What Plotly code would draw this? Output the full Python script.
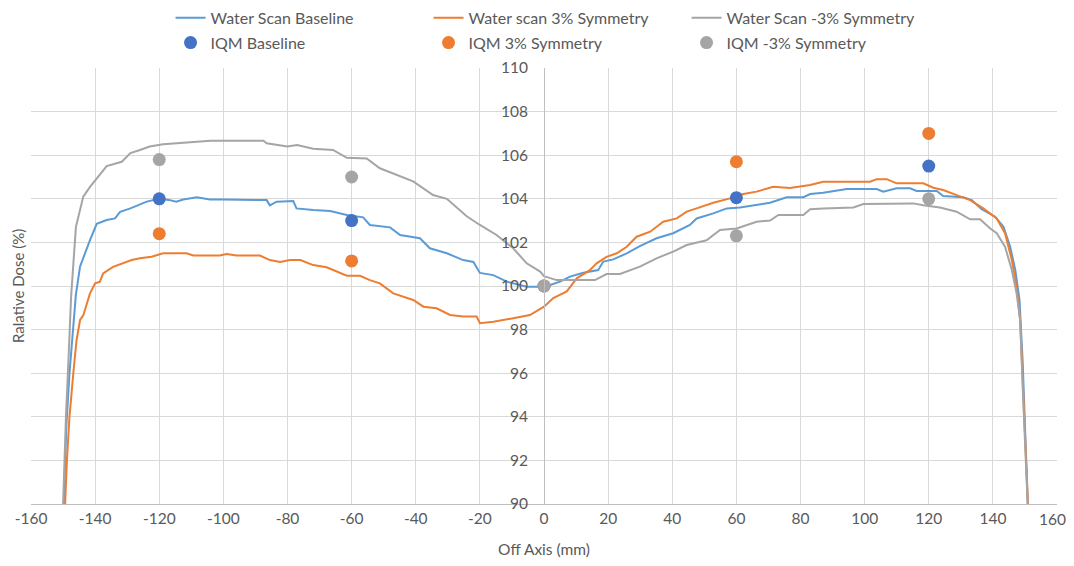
import plotly.graph_objects as go

# ---------------- data ----------------
base_x = [-149.9, -149.7, -149.0, -148.0, -146.8, -146.0, -144.7, -143.2, -141.6, -139.5, -136.4, -133.8,
          -132.2, -129.0, -126.5, -123.9, -120.0, -117.0, -114.7, -112.5, -108.3, -104.2, -100.0, -95.0,
          -90.0, -86.5, -85.5, -83.4, -78.2, -77.2, -72.0, -66.7, -61.5, -56.4, -54.3, -48.0, -44.9,
          -38.7, -35.6, -30.3, -25.2, -22.0, -20.0, -15.8, -11.6, -5.4, -2.0, 1.9, 5.0, 8.1, 12.3, 16.9,
          18.5, 21.6, 25.8, 29.9, 35.1, 40.3, 45.5, 47.6, 52.8, 57.0, 61.1, 65.3, 70.5, 75.7, 80.9, 83.0,
          87.1, 94.4, 103.8, 105.8, 110.0, 114.2, 116.2, 122.5, 124.5, 130.8, 133.4, 136.5, 140.7, 143.3,
          145.4, 147.0, 148.3, 149.3, 150.1, 150.7, 151.0]
base_y = [89.5, 90.5, 93.5, 96.0, 98.4, 99.6, 100.9, 101.5, 102.1, 102.85, 103.03, 103.1,
          103.4, 103.56, 103.7, 103.87, 104.0, 103.95, 103.87, 103.97, 104.07, 103.97, 103.97, 103.97,
          103.97, 103.94, 103.7, 103.87, 103.9, 103.56, 103.49, 103.44, 103.26, 103.15, 102.8, 102.69, 102.34,
          102.19, 101.73, 101.5, 101.19, 101.1, 100.6, 100.5, 100.2, 99.97, 99.97, 100.05, 100.2, 100.43, 100.61, 100.73,
          101.12, 101.22, 101.5, 101.83, 102.19, 102.42, 102.8, 103.1, 103.33, 103.56, 103.6, 103.7, 103.82, 104.07, 104.07, 104.22,
          104.28, 104.45, 104.45, 104.33, 104.48, 104.48, 104.36, 104.36, 104.13, 104.07, 103.94, 103.52, 103.18, 102.72,
          101.8, 100.73, 99.36, 96.5, 93.0, 90.5, 89.5]

pos_x = [-149.4, -149.3, -148.8, -148.0, -146.8, -145.8, -144.7, -143.7, -141.6, -140.0, -138.5, -137.5,
         -134.4, -131.2, -128.6, -126.0, -122.4, -118.8, -111.5, -109.4, -101.1, -99.0, -95.9, -88.6,
         -85.5, -82.3, -79.2, -76.0, -72.0, -67.8, -64.7, -61.5, -57.4, -54.3, -51.2, -47.0, -40.8,
         -37.6, -33.5, -29.3, -25.2, -21.0, -20.0, -15.8, -9.6, -4.4, 0.0, 2.9, 7.1, 10.2, 14.3, 16.4,
         19.5, 22.7, 25.8, 28.9, 33.1, 37.2, 41.4, 44.5, 47.6, 52.8, 58.0, 62.2, 66.3, 71.5, 76.7, 83.0,
         87.1, 101.7, 103.8, 106.9, 110.0, 118.3, 121.4, 124.5, 128.7, 132.9, 137.0, 141.2, 143.8, 145.9,
         147.4, 148.5, 149.5, 150.3, 150.9, 151.1]
pos_y = [89.5, 90.2, 92.0, 94.0, 96.0, 97.5, 98.44, 98.65, 99.66, 100.12, 100.2, 100.58,
         100.88, 101.04, 101.19, 101.27, 101.34, 101.5, 101.5, 101.4, 101.4, 101.47, 101.4, 101.4,
         101.19, 101.1, 101.19, 101.19, 100.96, 100.86, 100.66, 100.47, 100.47, 100.27, 100.12, 99.66, 99.36,
         99.05, 98.98, 98.67, 98.6, 98.6, 98.29, 98.36, 98.52, 98.67, 99.05, 99.45, 99.75, 100.35, 100.73, 101.04,
         101.34, 101.5, 101.8, 102.26, 102.49, 102.95, 103.1, 103.41, 103.56, 103.82, 104.02, 104.22, 104.33, 104.55, 104.5, 104.63,
         104.78, 104.78, 104.9, 104.9, 104.71, 104.71, 104.51, 104.4, 104.17, 103.94, 103.56, 103.1, 102.42, 101.19,
         99.97, 98.44, 95.0, 92.0, 90.0, 89.5]

neg_x = [-150.1, -150.0, -149.1, -148.2, -147.5, -146.0, -143.7, -141.6, -139.5, -136.4, -131.7, -129.0,
         -126.0, -123.0, -118.8, -111.5, -104.0, -87.5, -86.5, -80.0, -77.0, -72.0, -65.8, -61.5, -55.3,
         -51.2, -47.0, -40.8, -34.6, -30.3, -24.1, -20.0, -14.8, -9.6, -5.4, -1.2, 0.0, 3.9, 15.9, 19.5,
         23.7, 29.9, 35.1, 40.3, 44.5, 50.7, 54.9, 60.1, 66.3, 70.5, 73.1, 80.9, 83.0, 87.1, 96.5, 99.6,
         115.2, 118.3, 123.5, 128.7, 132.9, 136.0, 139.1, 141.2, 143.8, 145.9, 147.4, 148.5, 149.4, 150.2,
         150.8, 151.0]
neg_y = [89.5, 90.0, 94.0, 97.0, 99.5, 102.7, 104.1, 104.55, 104.95, 105.5, 105.7, 106.1,
         106.24, 106.4, 106.5, 106.57, 106.66, 106.66, 106.55, 106.4, 106.47, 106.3, 106.24, 105.88, 105.85,
         105.4, 105.17, 104.8, 104.17, 104.0, 103.2, 102.8, 102.34, 101.73, 101.04, 100.66, 100.45, 100.27, 100.27, 100.55,
         100.55, 100.89, 101.27, 101.58, 101.88, 102.1, 102.57, 102.64, 102.95, 103.0, 103.26, 103.26, 103.52, 103.56, 103.6, 103.76,
         103.79, 103.7, 103.6, 103.41, 103.06, 103.06, 102.65, 102.42, 101.8, 100.73, 99.66, 98.44, 95.0, 92.0,
         90.0, 89.5]

iqm_x = [-120, -60, 0, 60, 120]
iqm_base = [104.0, 103.0, 100.0, 104.05, 105.5]
iqm_pos = [102.4, 101.15, 100.0, 105.7, 107.0]
iqm_neg = [105.8, 105.0, 100.0, 102.3, 104.0]

x_ticks = list(range(-160, 161, 20))
y_ticks = list(range(90, 111, 2))

# ---------------- styles ----------------
BLUE_L, ORANGE, GRAY = "#5B9BD5", "#ED7D31", "#A5A5A5"
BLUE_M = "#4472C4"
TXT = "#595959"
FONT = "Lato"

fig = go.Figure()
fig.add_trace(go.Scatter(x=base_x, y=base_y, mode="lines", name="Water Scan Baseline",
                         line=dict(color=BLUE_L, width=2), legend="legend"))
fig.add_trace(go.Scatter(x=pos_x, y=pos_y, mode="lines", name="Water scan 3% Symmetry",
                         line=dict(color=ORANGE, width=2), legend="legend"))
fig.add_trace(go.Scatter(x=neg_x, y=neg_y, mode="lines", name="Water Scan -3% Symmetry",
                         line=dict(color=GRAY, width=2), legend="legend"))
fig.add_trace(go.Scatter(x=iqm_x, y=iqm_base, mode="markers", name="IQM Baseline",
                         marker=dict(color=BLUE_M, size=13), legend="legend2"))
fig.add_trace(go.Scatter(x=iqm_x, y=iqm_pos, mode="markers", name="IQM 3% Symmetry",
                         marker=dict(color=ORANGE, size=13), legend="legend2"))
fig.add_trace(go.Scatter(x=iqm_x, y=iqm_neg, mode="markers", name="IQM -3% Symmetry",
                         marker=dict(color=GRAY, size=13), legend="legend2"))

leg_common = dict(orientation="h", xanchor="left", x=0.136, yanchor="middle",
                  entrywidth=213, entrywidthmode="pixels",
                  font=dict(family=FONT, size=16, color=TXT), bgcolor="rgba(0,0,0,0)",
                  itemclick=False)

# the last x tick label is drawn as a right-aligned annotation so it is not clipped
x_ticktext = [str(v) for v in x_ticks[:-1]] + [""]

fig.update_layout(
    width=1066, height=550,
    margin=dict(l=23, r=17, t=60, b=54, autoexpand=False),
    paper_bgcolor="white", plot_bgcolor="white",
    font=dict(family=FONT, size=15, color=TXT),
    legend=dict(y=1.115, **leg_common),
    legend2=dict(y=1.058, **leg_common),
    xaxis=dict(range=[-160, 160], tickvals=x_ticks, ticktext=x_ticktext,
               showgrid=True, gridcolor="#D9D9D9", gridwidth=1, automargin=False,
               zeroline=False, showline=True, linecolor="#BFBFBF", linewidth=1,
               ticks="", tickfont=dict(family=FONT, size=15.5, color=TXT),
               title=dict(text="Off Axis (mm)", standoff=19,
                          font=dict(family=FONT, size=15.5, color=TXT))),
    yaxis=dict(range=[90, 110], tickvals=y_ticks, ticktext=[str(v) for v in y_ticks],
               anchor="free", position=0.5, automargin=False,
               showgrid=True, gridcolor="#D9D9D9", gridwidth=1,
               zeroline=False, showline=True, linecolor="#BFBFBF", linewidth=1,
               ticks="", ticklabelstandoff=13,
               tickfont=dict(family=FONT, size=15.5, color=TXT)),
    annotations=[
        dict(text="Ralative Dose (%)", xref="paper", yref="paper",
             x=-0.0127, y=0.5, xanchor="center", yanchor="middle",
             textangle=-90, showarrow=False,
             font=dict(family=FONT, size=15, color=TXT)),
        dict(text=str(x_ticks[-1]), xref="x", yref="paper",
             x=x_ticks[-1], y=-0.034, xanchor="right", yanchor="middle",
             xshift=10, showarrow=False, borderpad=0,
             font=dict(family=FONT, size=15.5, color=TXT)),
    ],
    showlegend=True,
)

fig.write_html("out.html")
